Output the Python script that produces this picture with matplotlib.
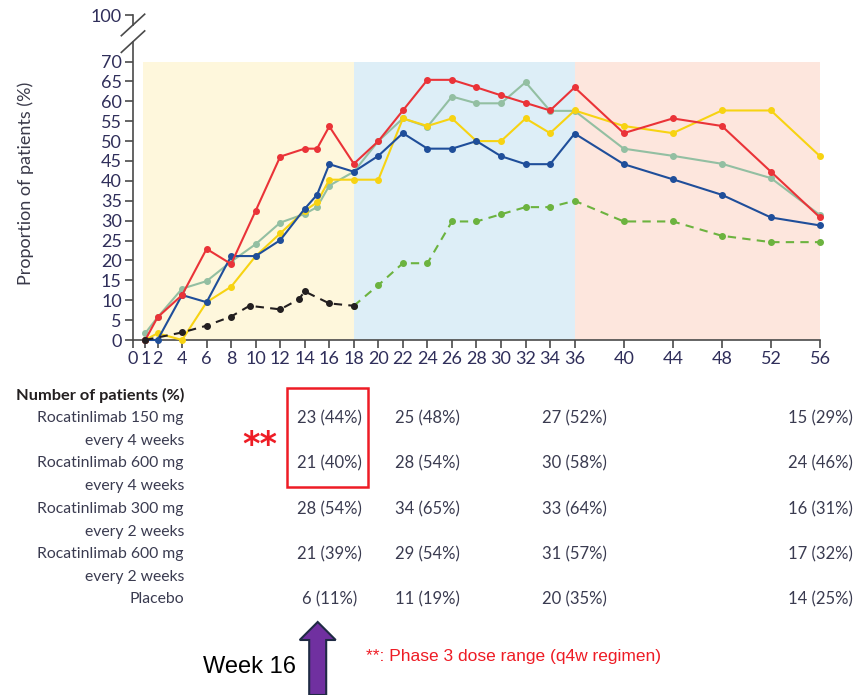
import numpy as np
import matplotlib.pyplot as plt
from matplotlib.patches import FancyArrow, Rectangle
from matplotlib.transforms import blended_transform_factory

# weeks / proportions
wk_early = [1, 2, 4, 6, 8, 10, 12, 14, 15, 16, 18]
wk_mid = [20, 22, 24, 26, 28, 30, 32, 34, 36]
wk_late = [40, 44, 48, 52, 56]

weeks = wk_early + wk_mid + wk_late

q4w_150 = [0, 0, 11.3, 9.5, 21.1, 21.1, 25.1, 33.0, 36.5, 44.2, 42.3,
           46.3, 52.0, 48.1, 48.1, 50.0, 46.2, 44.2, 44.2, 51.9,
           44.2, 40.4, 36.5, 30.8, 28.8]
q4w_600 = [0, 1.7, 0, 9.5, 13.4, 21.1, 26.8, 32.5, 34.6, 40.3, 40.3,
           40.3, 55.7, 53.8, 55.7, 50.0, 50.0, 55.7, 52.0, 57.7,
           53.8, 52.0, 57.7, 57.7, 46.2]
q2w_300 = [0, 5.7, 11.3, 22.9, 19.1, 32.5, 46.1, 48.1, 48.1, 53.7, 44.3,
           50.0, 57.7, 65.4, 65.4, 63.5, 61.5, 59.6, 57.7, 63.5,
           52.0, 55.7, 53.8, 42.3, 30.8]
q2w_600 = [1.7, 5.7, 12.9, 14.8, 19.7, 24.1, 29.5, 31.7, 33.4, 38.8, 42.3,
           50.0, 55.7, 53.6, 61.2, 59.5, 59.5, 64.8, 57.6, 57.6,
           48.1, 46.3, 44.3, 40.7, 31.4]

# placebo: black up to week 18, green afterwards
pbo_wk_a = [1, 4, 6, 8, 9.5, 12, 13.5, 14, 16, 18]
pbo_a = [0, 1.9, 3.6, 5.9, 8.6, 7.7, 10.2, 12.2, 9.2, 8.6]
pbo_wk_b = [18, 20, 22, 24, 26, 28, 30, 32, 34, 36, 40, 44, 48, 52, 56]
pbo_b = [8.6, 13.8, 19.3, 19.3, 29.8, 29.8, 31.6, 33.4, 33.4, 35.0,
         29.8, 29.8, 26.2, 24.6, 24.6]

xticks = [0, 1, 2, 4, 6, 8, 10, 12, 14, 16, 18, 20, 22, 24, 26, 28, 30,
          32, 34, 36, 40, 44, 48, 52, 56]

# table under the plot
table_weeks = [16, 24, 36, 56]
row_labels = [("Rocatinlimab 150 mg", "every 4 weeks"),
              ("Rocatinlimab 600 mg", "every 4 weeks"),
              ("Rocatinlimab 300 mg", "every 2 weeks"),
              ("Rocatinlimab 600 mg", "every 2 weeks"),
              ("Placebo", None)]
row_values = [["23 (44%)", "25 (48%)", "27 (52%)", "15 (29%)"],
              ["21 (40%)", "28 (54%)", "30 (58%)", "24 (46%)"],
              ["28 (54%)", "34 (65%)", "33 (64%)", "16 (31%)"],
              ["21 (39%)", "29 (54%)", "31 (57%)", "17 (32%)"],
              ["6 (11%)", "11 (19%)", "20 (35%)", "14 (25%)"]]

W, H = 854, 695
TOP = 81.7  # where the "100" tick sits after the axis break

plt.rcParams['font.family'] = ['Lato', 'DejaVu Sans']
fig = plt.figure(figsize=(W / 100, H / 100), dpi=100)
ax = fig.add_axes([133 / W, 1 - 340 / H, 687 / W, 325 / H])

ax.set_xlim(0, 56)
ax.set_ylim(0, TOP)

# phase shading
ax.fill_between([0.8, 18], 0, 70, color='#fef7dc', lw=0, zorder=0)
ax.fill_between([18, 36], 0, 70, color='#ddeef7', lw=0, zorder=0)
ax.fill_between([36, 56], 0, 70, color='#fde6dd', lw=0, zorder=0)

kw = dict(marker='o', markersize=4, lw=1.5, clip_on=False, zorder=3)
ax.plot(weeks, q2w_600, color='#93bfa2', **kw)
ax.plot(weeks, q4w_600, color='#f7d312', **kw)
ax.plot(weeks, q4w_150, color='#1f4e9a', **kw)
ax.plot(weeks, q2w_300, color='#ea3338', **kw)
ax.plot(pbo_wk_b, pbo_b, color='#6cb33f', ls=(0, (4, 3)), **kw)
ax.plot(pbo_wk_a, pbo_a, color='#231f20', ls=(0, (4, 3)), **kw)

# axes, ticks and the broken y axis
tick_col = '#2f2e5a'
ax.spines[['top', 'right', 'left']].set_visible(False)
ax.spines['bottom'].set_color('#4a4a4a')
ax.spines['bottom'].set_linewidth(1.2)
ax.plot([0, 0], [0, 75], color='#4a4a4a', lw=1.2, clip_on=False, zorder=4)
ax.plot([0, 0], [79.2, TOP], color='#4a4a4a', lw=1.2, clip_on=False, zorder=4)
for yb in (75, 79.2):
    ax.plot([-0.95, 0.95], [yb - 2.7, yb + 2.7], color='#4a4a4a', lw=1.2,
            clip_on=False, zorder=4)

ax.set_yticks(list(range(0, 71, 5)) + [TOP])
ax.set_yticklabels([str(v) for v in range(0, 71, 5)] + ['100'])
ax.set_xticks(xticks)
ax.set_xticklabels([str(v) for v in xticks])
ax.tick_params(axis='both', labelsize=13, labelcolor=tick_col,
               color='#4a4a4a', width=1.2, length=6, pad=2)

fig.text(26 / W, 1 - 183 / H, 'Proportion of patients (%)', rotation=90,
         ha='center', va='center', fontsize=13, color='#3a3a4a')

# number of patients table
txt_col = '#3a3b50'
fig.text(184 / W, 1 - 395 / H, 'Number of patients (%)', ha='right',
         va='center', fontsize=11.8, fontweight='bold', color='#231f20')
tr = blended_transform_factory(ax.transData, fig.transFigure)
row_y = [418, 463, 509, 554, 599]
for (lab1, lab2), vals, y in zip(row_labels, row_values, row_y):
    fig.text(184 / W, 1 - y / H, lab1, ha='right', va='center',
             fontsize=11.3, color=txt_col)
    if lab2:
        fig.text(184 / W, 1 - (y + 23) / H, lab2, ha='right', va='center',
                 fontsize=11.3, color=txt_col)
    for wk, v in zip(table_weeks, vals):
        ax.text(wk, 1 - y / H, v, transform=tr, ha='center', va='center',
                fontsize=12, color=txt_col)

# annotations
fig.add_artist(Rectangle((2.87, (H - 487) / 100), 0.81, 0.99, fill=False,
                         ec='#ee1c25', lw=1.8, transform=fig.dpi_scale_trans))
fig.text(260 / W, 1 - 446 / H, '**', ha='center', va='center', fontsize=24,
         fontweight='bold', color='#ee1c25', family='DejaVu Sans')
fig.add_artist(FancyArrow(3.177, 0.0, 0, 0.73, width=0.17, head_width=0.36,
                          head_length=0.18, length_includes_head=True,
                          fc='#7030a0', ec='#1f2a44', lw=1.5,
                          transform=fig.dpi_scale_trans))
fig.text(250 / W, 1 - 667 / H, 'Week 16', ha='center', va='center',
         fontsize=17, color='black', family='Liberation Sans')
fig.text(366 / W, 1 - 657 / H, '**: Phase 3 dose range (q4w regimen)',
         ha='left', va='center', fontsize=12.5, color='#ee1c25',
         family='Liberation Sans')

fig.savefig('out.png', dpi=100)
